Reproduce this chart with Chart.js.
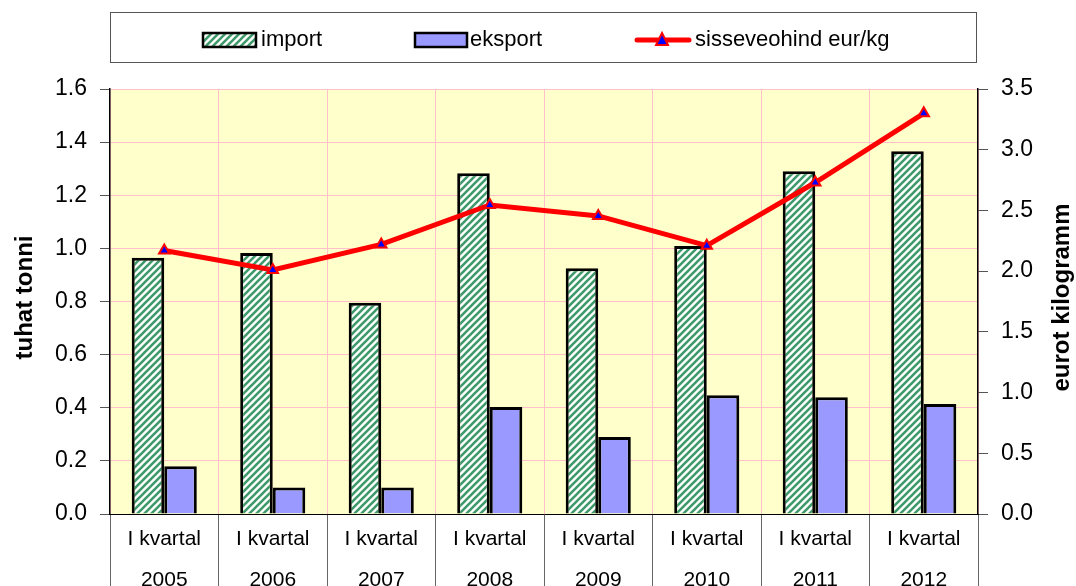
<!DOCTYPE html>
<html>
<head>
<meta charset="utf-8">
<script src="https://cdn.jsdelivr.net/npm/chart.js@4"></script>
<style>
html,body{margin:0;padding:0;background:#fff;}
#wrap{width:1076px;height:586px;position:relative;}
</style>
</head>
<body>
<div id="wrap"><canvas id="c"></canvas></div>
<script>
const quarters = ['I kvartal','I kvartal','I kvartal','I kvartal','I kvartal','I kvartal','I kvartal','I kvartal'];
const years = ['2005','2006','2007','2008','2009','2010','2011','2012'];
const importValues = [0.965, 0.983, 0.795, 1.283, 0.925, 1.009, 1.29, 1.366];
const exportValues = [0.18, 0.10, 0.10, 0.403, 0.29, 0.447, 0.44, 0.414];
const priceValues = [2.17, 2.01, 2.22, 2.545, 2.455, 2.21, 2.73, 3.30];
const leftTicks = {min: 0, max: 1.6, step: 0.2};
const rightTicks = {min: 0, max: 3.5, step: 0.5};
const seriesNames = ['import', 'eksport', 'sisseveohind eur/kg'];
const axisTitles = ['tuhat tonni', 'eurot kilogramm'];

const FONT = '"Liberation Sans", Arial, sans-serif';

function makeHatch(){
  const c = document.createElement('canvas');
  c.width = 7; c.height = 7;
  const g = c.getContext('2d');
  g.fillStyle = '#ffffff';
  g.fillRect(0,0,7,7);
  g.strokeStyle = '#3F9A6B';
  g.lineWidth = 2.6;
  g.beginPath();
  g.moveTo(-2,9); g.lineTo(9,-2);
  g.moveTo(-2,2); g.lineTo(2,-2);
  g.moveTo(5,9); g.lineTo(9,5);
  g.stroke();
  return g.createPattern(c, 'repeat');
}
const hatch = makeHatch();

const labels = quarters.map((q,i) => [q, years[i]]);

const bgPlugin = {
  id: 'bg',
  beforeDraw(chart){
    const {ctx, chartArea:a} = chart;
    ctx.save();
    ctx.fillStyle = '#FFFFCC';
    ctx.fillRect(a.left, a.top, a.right - a.left, a.bottom - a.top);
    ctx.restore();
  }
};

const legendPlugin = {
  id: 'customLegend',
  afterDraw(chart){
    const ctx = chart.ctx;
    const ds = chart.data.datasets;
    ctx.save();
    ctx.strokeStyle = '#555';
    ctx.lineWidth = 1;
    ctx.strokeRect(110.5, 12.5, 866, 50);
    const cy = 40;
    ctx.font = '22px ' + FONT;
    ctx.fillStyle = '#000';
    ctx.textBaseline = 'middle';
    // import
    ctx.fillStyle = hatch;
    ctx.fillRect(203, 33, 53, 14);
    ctx.lineWidth = 2.5; ctx.strokeStyle = '#000';
    ctx.strokeRect(203, 33, 53, 14);
    ctx.fillStyle = '#000';
    ctx.fillText(ds[1].label, 261, cy);
    // eksport
    ctx.fillStyle = '#9999FF';
    ctx.fillRect(415, 33, 52, 14);
    ctx.strokeRect(415, 33, 52, 14);
    ctx.fillStyle = '#000';
    ctx.fillText(ds[2].label, 470, cy);
    // line
    ctx.strokeStyle = '#FF0000';
    ctx.lineWidth = 5;
    ctx.lineCap = 'round';
    ctx.beginPath(); ctx.moveTo(637, cy); ctx.lineTo(689, cy); ctx.stroke();
    ctx.beginPath();
    ctx.moveTo(662, cy - 7); ctx.lineTo(668, cy + 5); ctx.lineTo(656, cy + 5); ctx.closePath();
    ctx.fillStyle = '#0000FF'; ctx.fill();
    ctx.lineWidth = 2; ctx.strokeStyle = '#FF0000'; ctx.stroke();
    ctx.fillStyle = '#000';
    ctx.fillText(ds[0].label, 695, cy);
    // axis titles
    const a = chart.chartArea;
    const my = (a.top + a.bottom) / 2 - 4;
    ctx.font = 'bold 24px ' + FONT;
    ctx.textAlign = 'center';
    ctx.save(); ctx.translate(25, my); ctx.rotate(-Math.PI/2); ctx.fillText(axisTitles[0], 0, 0); ctx.restore();
    ctx.save(); ctx.translate(1062, my); ctx.rotate(-Math.PI/2); ctx.fillText(axisTitles[1], 0, 0); ctx.restore();
    ctx.restore();
  }
};

new Chart(document.getElementById('c'), {
  type: 'bar',
  data: {
    labels: labels,
    datasets: [
      {
        type: 'line', label: seriesNames[2], data: priceValues, yAxisID: 'y1', order: 0,
        borderColor: '#FF0000', borderWidth: 5, tension: 0,
        pointStyle: 'triangle', pointRadius: 6, pointBackgroundColor: '#0000FF',
        pointBorderColor: '#FF0000', pointBorderWidth: 2
      },
      {
        label: seriesNames[0], data: importValues, yAxisID: 'y', order: 1,
        backgroundColor: hatch, borderColor: '#000', borderWidth: 3,
        categoryPercentage: 0.6, barPercentage: 1.0
      },
      {
        label: seriesNames[1], data: exportValues, yAxisID: 'y', order: 1,
        backgroundColor: '#9999FF', borderColor: '#000', borderWidth: 3,
        categoryPercentage: 0.6, barPercentage: 1.0
      }
    ]
  },
  options: {
    responsive: true,
    maintainAspectRatio: false,
    animation: false,
    layout: { padding: { top: 89, left: 0, right: 0, bottom: 0 } },
    plugins: { legend: { display: false }, tooltip: { enabled: false } },
    scales: {
      x: {
        grid: { offset: true, color: '#FFC0CB', tickColor: '#666', tickLength: 72, lineWidth: 1 },
        border: { color: '#000', width: 1 },
        ticks: { font: { size: 21, family: FONT, lineHeight: '41px' }, color: '#000', padding: -67, maxRotation: 0, autoSkip: false },
        afterFit: s => { s.height = 72; }
      },
      y: {
        position: 'left', min: leftTicks.min, max: leftTicks.max,
        grid: { color: '#FFC0CB', tickColor: '#555', tickLength: 10 },
        border: { color: '#000', width: 1.5 },
        ticks: { stepSize: leftTicks.step, font: { size: 23, family: FONT }, color: '#000', padding: 13,
                 callback: v => Number(v).toFixed(1) },
        afterFit: s => { s.width = 110; }
      },
      y1: {
        position: 'right', min: rightTicks.min, max: rightTicks.max,
        grid: { drawOnChartArea: false, tickColor: '#555', tickLength: 10 },
        border: { color: '#000', width: 1.5 },
        ticks: { stepSize: rightTicks.step, font: { size: 23, family: FONT }, color: '#000', padding: 13,
                 callback: v => Number(v).toFixed(1) },
        afterFit: s => { s.width = 98; }
      }
    }
  },
  plugins: [bgPlugin, legendPlugin]
});
</script>
</body>
</html>
